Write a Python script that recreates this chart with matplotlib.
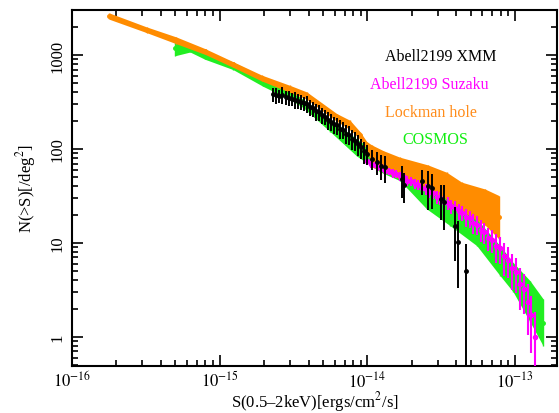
import numpy as np
import matplotlib
matplotlib.use("Agg")
import matplotlib.pyplot as plt
from matplotlib.ticker import LogLocator, FixedLocator, FixedFormatter, NullFormatter

plt.rcParams['font.family'] = ['Liberation Serif', 'DejaVu Serif']
plt.rcParams['mathtext.fontset'] = 'stix'

# ---------------- data ----------------
# Lockman hole band (flux, lower, upper)
lock_S = [1.79e-16, 3.2e-16, 5.06e-16, 7.95e-16, 1.23e-15, 1.93e-15, 2.99e-15, 3.88e-15,
          6.2e-15, 7.62e-15, 8.9e-15, 9.93e-15, 1.075e-14, 1.28e-14, 1.66e-14, 2.57e-14,
          3.44e-14, 4.35e-14, 6.25e-14, 7.78e-14]
lock_lo = [2400, 1730, 1320, 1015, 740, 528, 400, 338, 197, 161, 127, 100, 64, 58, 48, 37.5,
           29.4, 21.9, 15.5, 11.0]
lock_hi = [2800, 1990, 1560, 1170, 850, 610, 475, 405, 238, 202, 153, 119, 110, 96, 81.7, 67.6,
           56.5, 44.3, 37.5, 31.9]

# COSMOS band (flux, lower, upper)
cos_S = [5.0e-16, 6.3e-16, 7.95e-16, 1.23e-15, 1.96e-15, 2.99e-15, 3.66e-15, 5.59e-15, 8.47e-15,
         1.22e-14, 1.66e-14, 2.52e-14, 3.62e-14, 5.5e-14, 7.9e-14, 9.7e-14, 1.26e-13, 1.55e-13]
cos_lo = [983, 1076, 900, 700, 465, 336, 277, 153, 84, 57, 46, 23.0, 15.3, 9.35, 4.49, 3.01, 1.45, 0.80]
cos_hi = [1420, 1256, 1103, 842, 583, 414, 340, 208, 128, 85, 64.4, 37.5, 29.4, 18.0, 9.35, 6.17, 3.97, 2.53]

# Abell2199 Suzaku (flux, N, relative error)
suz_S = [1.00e-14, 1.06e-14, 1.12e-14, 1.18e-14, 1.25e-14, 1.32e-14, 1.40e-14, 1.48e-14, 1.57e-14,
         1.66e-14, 1.76e-14, 1.86e-14, 1.97e-14, 2.09e-14, 2.21e-14, 2.34e-14, 2.48e-14, 2.62e-14,
         2.78e-14, 2.94e-14, 3.11e-14, 3.30e-14, 3.49e-14, 3.70e-14, 3.92e-14, 4.15e-14, 4.39e-14,
         4.65e-14, 4.93e-14, 5.22e-14, 5.53e-14, 5.85e-14, 6.20e-14, 6.56e-14, 6.95e-14, 7.4e-14,
         7.9e-14, 8.4e-14, 8.9e-14, 9.5e-14, 1.01e-13, 1.08e-13, 1.15e-13, 1.22e-13, 1.29e-13, 1.36e-13]
suz_N = [74, 69, 68, 64, 63, 58, 58, 55, 54, 51, 50, 46, 45.5, 42.5, 41.5, 38.5, 37.5, 35, 34, 31,
         30, 27.5, 26.8, 24.5, 23.6, 21.8, 21, 18.8, 18.2, 16.2, 15.6, 13.8, 13.1, 11.3, 10.8, 9.3,
         8.8, 7.2, 6.6, 5.4, 4.9, 3.7, 3.2, 2.35, 1.7, 1.0]
suz_e = [.08, .09, .08, .10, .09, .10, .09, .10, .10, .11, .10, .12, .11, .12, .12, .13, .13, .14,
         .14, .16, .15, .17, .16, .18, .18, .20, .19, .22, .21, .24, .23, .26, .25, .28, .27, .35,
         .33, .38, .36, .42, .40, .48, .45, .55, .60, .85]

# Abell2199 XMM (flux, N, relative error)
xmm_S = [2.30e-15, 2.41e-15, 2.52e-15, 2.64e-15, 2.81e-15, 2.95e-15, 3.09e-15, 3.23e-15, 3.39e-15,
         3.55e-15, 3.72e-15, 3.90e-15, 4.09e-15, 4.28e-15, 4.49e-15, 4.70e-15, 4.93e-15, 5.16e-15,
         5.41e-15, 5.67e-15, 5.94e-15, 6.23e-15, 6.52e-15, 6.84e-15, 7.16e-15, 7.51e-15, 7.87e-15,
         8.24e-15, 8.64e-15, 9.05e-15, 9.48e-15, 9.94e-15, 1.075e-14, 1.16e-14, 1.24e-14, 1.32e-14,
         1.72e-14, 1.77e-14, 2.34e-14, 2.57e-14, 2.74e-14, 3.15e-14, 3.30e-14, 3.92e-14, 4.11e-14,
         4.65e-14]
xmm_N = [384, 372, 366, 378, 355, 350, 338, 334, 322, 318, 306, 303, 278, 270, 251, 245, 228, 221,
         205, 196, 183, 178, 165, 160, 146, 142, 129, 123, 112, 104, 94, 89, 78, 73, 66, 64, 48,
         41.4, 45.7, 40.4, 38.5, 29.4, 27.3, 15.2, 10.3, 5.04]
xmm_e = [.17, .19, .16, .20, .17, .19, .16, .20, .18, .19, .17, .20, .19, .18, .21, .19, .20, .19,
         .22, .20, .21, .20, .23, .21, .22, .23, .24, .22, .25, .24, .26, .25, .24, .27, .30, .32,
         .37, .35, .30, .45, .40, .40, .50, .58, .68, .92]

labels = ["Abell2199 XMM", "Abell2199 Suzaku", "Lockman hole", "COSMOS"]
col_xmm, col_suz, col_lock, col_cos = "black", "#ff00ff", "#ff8c00", "#22ee22"
label_cols = ["black", "#ff00ff", "#ff8c1a", "#11ee11"]
xticks = [1e-16, 1e-15, 1e-14, 1e-13]
xticklabels = ["$10^{-16}$", "$10^{-15}$", "$10^{-14}$", "$10^{-13}$"]
yticks = [1, 10, 100, 1000]
yticklabels = ["1", "10", "100", "1000"]

# ---------------- plot ----------------
fig = plt.figure(figsize=(5.59, 4.14), dpi=100)
ax = fig.add_axes([0.1288, 0.1135, 0.8676, 0.8605])
ax.set_xscale('log')
ax.set_yscale('log')

def band(S, lo, hi, col, z):
    S = np.array(S); lo = np.array(lo); hi = np.array(hi)
    mid = np.sqrt(lo * hi)
    ax.fill_between(S, lo, hi, color=col, lw=0, zorder=z)
    ax.errorbar(S, mid, yerr=[mid - lo, hi - mid], fmt='o', ms=2.5, color=col,
                ecolor=col, elinewidth=1.0, capsize=0, zorder=z + 0.1)

band(cos_S, cos_lo, cos_hi, col_cos, 1)
band(lock_S, lock_lo, lock_hi, col_lock, 2)

sS = np.array(suz_S); sN = np.array(suz_N)
ax.errorbar(sS, sN, yerr=sN * np.array(suz_e), xerr=sS * 0.012, fmt='o', ms=3, color=col_suz,
            elinewidth=1.5, capsize=0, zorder=3)

xS = np.array(xmm_S); xN = np.array(xmm_N)
ax.errorbar(xS, xN, yerr=xN * np.array(xmm_e), xerr=xS * 0.02, fmt='o', ms=2.5, color=col_xmm,
            elinewidth=1.4, capsize=0, zorder=4)

ax.set_xlim(1e-16, 1.92e-13)
ax.set_ylim(0.49, 3030)

ax.xaxis.set_major_locator(FixedLocator(xticks))
ax.xaxis.set_major_formatter(FixedFormatter(xticklabels))
ax.xaxis.set_minor_locator(LogLocator(base=10, subs=np.arange(2, 10), numticks=20))
ax.xaxis.set_minor_formatter(NullFormatter())
ax.yaxis.set_major_locator(FixedLocator(yticks))
ax.yaxis.set_major_formatter(FixedFormatter(yticklabels))
ax.yaxis.set_minor_locator(LogLocator(base=10, subs=np.arange(2, 10), numticks=20))
ax.yaxis.set_minor_formatter(NullFormatter())

ax.tick_params(which='both', direction='in', top=True, right=True, width=1.2, labelsize=12,
               colors='black')
ax.tick_params(which='major', length=8)
ax.tick_params(which='minor', length=4)
ax.tick_params(axis='x', pad=3)
ax.tick_params(axis='y', pad=5)
for lab in ax.get_yticklabels():
    lab.set_rotation(90)
    lab.set_va('center')
for sp in ax.spines.values():
    sp.set_linewidth(1.5)

ax.set_xlabel("S(0.5\u20132keV)[ergs/cm$^2$/s]", fontsize=12, labelpad=-1)
ax.set_ylabel("N(>S)[/deg$^2$]", fontsize=12, labelpad=8)

xpos = [0.761, 0.736, 0.740, 0.749]
ypos = [0.870, 0.791, 0.713, 0.637]
for t, c, xp, yp in zip(labels, label_cols, xpos, ypos):
    ax.text(xp, yp, t, color=c, fontsize=11.5, ha='center', va='center', transform=ax.transAxes,
            zorder=6)

fig.savefig("out.png", dpi=100)
